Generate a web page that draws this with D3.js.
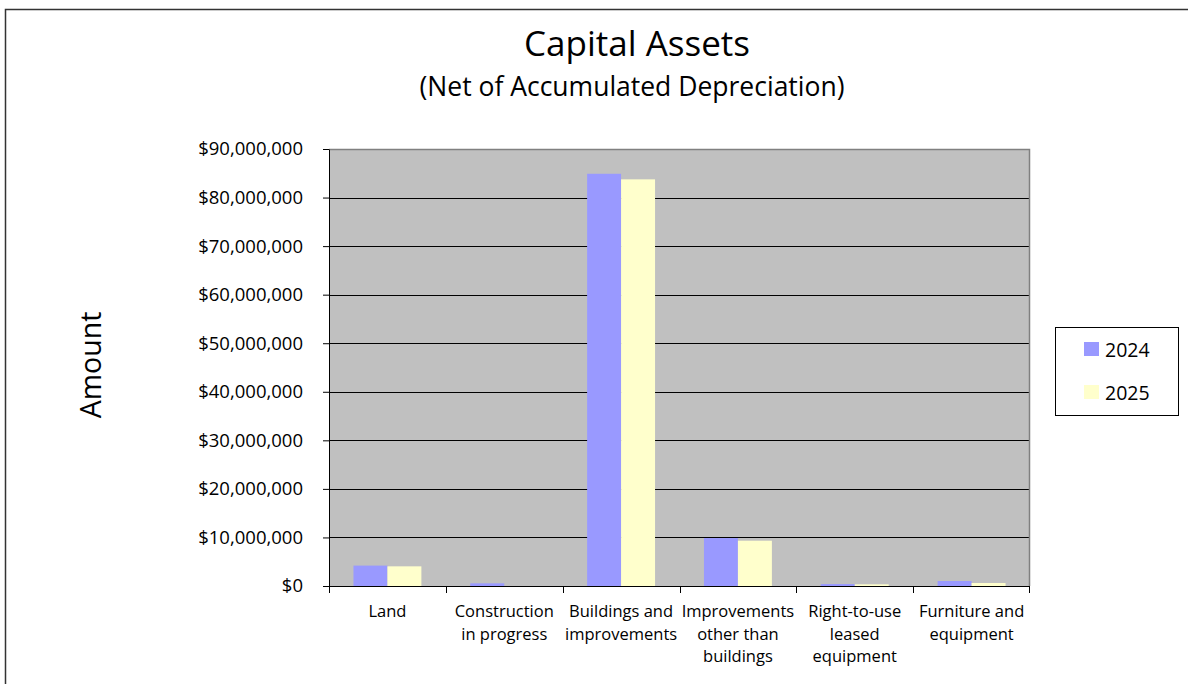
<!DOCTYPE html>
<html>
<head>
<meta charset="utf-8">
<script src="https://cdn.jsdelivr.net/npm/d3@7"></script>
<style>
  body { margin: 0; background: #fff; }
  svg { display: block; font-family: "Open Sans", sans-serif; }
</style>
</head>
<body>
<div id="chart"></div>
<script>
// categories (line breaks as in the original axis labels)
var categories = [
    "Land",
    "Construction\nin progress",
    "Buildings and\nimprovements",
    "Improvements\nother than\nbuildings",
    "Right-to-use\nleased\nequipment",
    "Furniture and\nequipment"
];
var seriesNames = ["2024", "2025"];
var values2024 = [4200000, 550000, 84900000, 9880000, 400000, 1030000];
var values2025 = [4050000, 0, 83750000, 9330000, 350000, 620000];
var yTicks = [0, 10000000, 20000000, 30000000, 40000000, 50000000, 60000000, 70000000, 80000000, 90000000];
var colors = ["#9999FF", "#FFFFCC"];

var data = categories.map(function(c, i) {
    return {cat: c, "2024": values2024[i], "2025": values2025[i]};
});

var W = 1188, H = 684;
var margin = {top: 149, right: 158, bottom: 98, left: 329},
    width = W - margin.left - margin.right,
    height = H - margin.top - margin.bottom;

var svg = d3.select("#chart")
  .append("svg")
    .attr("width", W)
    .attr("height", H);

// outer chart border (only top and left show in the picture)
svg.append("path")
    .attr("d", "M5.5," + H + "V9.5H" + W)
    .attr("fill", "none")
    .attr("stroke", "#333")
    .attr("stroke-width", 1.5);

// titles
svg.append("text")
    .attr("x", 637).attr("y", 56)
    .attr("text-anchor", "middle")
    .style("font-size", "35px")
    .text("Capital Assets");
svg.append("text")
    .attr("x", 632).attr("y", 96)
    .attr("text-anchor", "middle")
    .style("font-size", "26.5px")
    .text("(Net of Accumulated Depreciation)");

svg.append("text")
    .attr("transform", "translate(101,365) rotate(-90)")
    .attr("text-anchor", "middle")
    .style("font-size", "28.5px")
    .text("Amount");

var g = svg.append("g")
    .attr("transform", "translate(" + margin.left + "," + margin.top + ")");

var x0 = d3.scaleBand()
    .domain(categories)
    .range([0, width])
    .padding(0);

var x1 = d3.scaleBand()
    .domain(seriesNames)
    .range([0, x0.bandwidth()])
    .paddingInner(0)
    .paddingOuter(0.72);

var y = d3.scaleLinear()
    .domain([0, 90000000])
    .range([height, 0]);

var color = d3.scaleOrdinal().domain(seriesNames).range(colors);

// plot background
g.append("rect")
    .attr("width", width)
    .attr("height", height)
    .attr("fill", "#C0C0C0");

// gridlines
g.append("g")
    .selectAll("line")
    .data(yTicks.slice(1))
    .enter().append("line")
    .attr("x1", 0).attr("x2", width)
    .attr("y1", function(d) { return Math.round(y(d)) + 0.5; })
    .attr("y2", function(d) { return Math.round(y(d)) + 0.5; })
    .attr("stroke", "#000")
    .attr("stroke-width", 1);

// plot border top / right
g.append("path")
    .attr("d", "M0,0.5H" + (width - 0.5) + "V" + height)
    .attr("fill", "none")
    .attr("stroke", "#808080")
    .attr("stroke-width", 1.5);

// bars
g.append("g")
    .selectAll("g")
    .data(data)
    .enter().append("g")
    .attr("transform", function(d) { return "translate(" + x0(d.cat) + ",0)"; })
    .selectAll("rect")
    .data(function(d) { return seriesNames.map(function(k) { return {key: k, value: d[k]}; }); })
    .enter().append("rect")
        .attr("x", function(d) { return x1(d.key); })
        .attr("y", function(d) { return y(d.value); })
        .attr("width", x1.bandwidth())
        .attr("height", function(d) { return height - y(d.value); })
        .attr("fill", function(d) { return color(d.key); });

// y axis
var yAxis = g.append("g")
    .call(d3.axisLeft(y).tickValues(yTicks).tickFormat(d3.format("$,.0f")).tickSize(6).tickSizeOuter(0).tickPadding(20));
yAxis.select(".domain").attr("stroke", "#000");
yAxis.selectAll("text").style("font-size", "18.5px").attr("fill", "#000").style("font-family", "Open Sans");

// x axis with ticks at category boundaries
var xAxis = g.append("g")
    .attr("transform", "translate(0," + height + ")");
xAxis.append("line")
    .attr("x1", 0).attr("x2", width)
    .attr("y1", 0.5).attr("y2", 0.5)
    .attr("stroke", "#000");
xAxis.selectAll(".bound")
    .data(categories.concat([null]))
    .enter().append("line")
    .attr("class", "bound")
    .attr("x1", function(d) { return d === null ? width - 0.5 : Math.round(x0(d)) + 0.5; })
    .attr("x2", function(d) { return d === null ? width - 0.5 : Math.round(x0(d)) + 0.5; })
    .attr("y1", 0).attr("y2", 7)
    .attr("stroke", "#000");

var labels = xAxis.selectAll(".cat")
    .data(categories)
    .enter().append("text")
    .attr("class", "cat")
    .attr("text-anchor", "middle")
    .attr("x", function(d) { return x0(d) + x0.bandwidth() / 2; })
    .attr("y", 31)
    .style("font-size", "16.5px");
labels.each(function(d) {
    var t = d3.select(this);
    d.split("\n").forEach(function(line, i) {
        t.append("tspan")
            .attr("x", x0(d) + x0.bandwidth() / 2)
            .attr("dy", i === 0 ? 0 : 22.5)
            .text(line);
    });
});

// legend
var legend = svg.append("g").attr("transform", "translate(1055,327)");
legend.append("rect")
    .attr("x", 0.5).attr("y", 0.5)
    .attr("width", 123).attr("height", 88)
    .attr("fill", "#fff")
    .attr("stroke", "#000");
var item = legend.selectAll(".item")
    .data(seriesNames)
    .enter().append("g")
    .attr("class", "item")
    .attr("transform", function(d, i) { return "translate(0," + (i * 43) + ")"; });
item.append("rect")
    .attr("x", 29).attr("y", 15)
    .attr("width", 15).attr("height", 14)
    .attr("fill", function(d) { return color(d); });
item.append("text")
    .attr("x", 50).attr("y", 30)
    .style("font-size", "19.5px")
    .text(function(d) { return d; });
</script>
</body>
</html>
